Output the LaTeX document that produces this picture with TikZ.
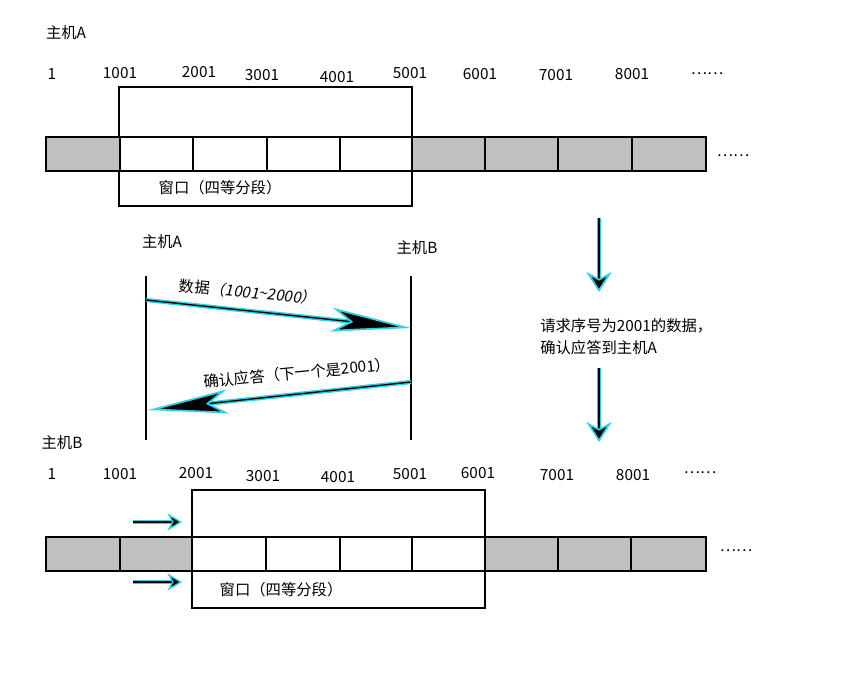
\documentclass[tikz,border=0pt]{standalone}
\usepackage{fontspec}
\setmainfont{Noto Sans CJK SC}
\newfontfamily\slantfont[FakeSlant=0.18]{Noto Sans CJK SC}
\usetikzlibrary{arrows.meta}
\definecolor{segGray}{RGB}{192,192,192}
\definecolor{glow}{RGB}{45,208,228}
\tikzset{lbl/.style={inner sep=0pt, font=\fontsize{11.5}{16.5}\selectfont}}
\tikzset{segment/.style={draw, line width=1.2pt, fill=white}}
\tikzset{sent segment/.style={segment, fill=segGray}}
\tikzset{window/.style={draw, line width=0.8pt}}
\tikzset{lifeline/.style={line width=0.8pt}}
\tikzset{message/.style={line width=1pt, preaction={draw=glow, line width=3.2pt, -, shorten >=40pt}, -{Stealth[length=60pt, width=18pt, inset=14pt, color=glow, fill=black, line width=1.3pt]}}}
\tikzset{down arrow/.style={line width=1.2pt, preaction={draw=glow, line width=3.4pt, -, shorten >=10pt}, -{Stealth[length=15pt, width=19pt, inset=5pt, color=glow, fill=black, line width=1.3pt]}}}
\tikzset{slide arrow/.style={line width=0.9pt, preaction={draw=glow, line width=2.4pt, -, shorten >=6pt}, -{Stealth[length=11pt, width=13pt, inset=3.5pt, color=glow, fill=black, line width=1pt]}}}

\begin{document}
\begin{tikzpicture}[x=0.75pt, y=-0.75pt]
    \useasboundingbox (0,0) rectangle (852,676);
    % sender buffer
    \node[lbl] (hostA) at (66,33) {主机A};
    \foreach \x/\y/\t [count=\i] in {52/74/1, 120/73/1001, 199/72/2001, 262/75/3001, 337/77/4001, 410/73/5001, 480/74/6001, 556/75/7001, 632/74/8001, 707/74/……}
        \node[lbl] (numA\i) at (\x,\y) {\t};
    \draw[window] (119,87) rectangle (412,206);
    \foreach \xa/\xb in {46/120, 412/485, 485/558, 558/632, 632/706}
        \draw[sent segment] (\xa,137) rectangle (\xb,171);
    \foreach \xa/\xb in {120/193, 193/267, 267/340, 340/412}
        \draw[segment, line width=1.5pt] (\xa,137) rectangle (\xb,171);
    \node[lbl] (winA) at (220,188) {窗口（四等分段）};
    \node[lbl] (moreA) at (733,156) {……};
    % exchange
    \node[lbl] (peerA) at (162,242) {主机A};
    \node[lbl] (peerB) at (417,248) {主机B};
    \coordinate (lifeAtop) at (146,276);
    \coordinate (lifeAbot) at (146,440);
    \coordinate (lifeBtop) at (411,276);
    \coordinate (lifeBbot) at (411,440);
    \draw[lifeline] (lifeAtop) -- (lifeAbot);
    \draw[lifeline] (lifeBtop) -- (lifeBbot);
    \coordinate (dataS) at (146,300);
    \coordinate (dataE) at (411,328);
    \draw[message] (dataS) -- (dataE);
    \node[lbl, rotate=-5.5] (dataLbl) at (248,292) {数据{\slantfont （1001\textasciitilde2000）}};
    \coordinate (ackS) at (411,382);
    \coordinate (ackE) at (148,410);
    \draw[message] (ackS) -- (ackE);
    \node[lbl, rotate=5.5] (ackLbl) at (297,373) {确认应答（下一个是2001）};
    % note on the right
    \node[lbl, align=left, anchor=west] (note) at (540,337) {请求序号为2001的数据，\\确认应答到主机A};
    \coordinate (down1s) at (599,218);
    \coordinate (down1e) at (599,292);
    \coordinate (down2s) at (599,368);
    \coordinate (down2e) at (599,442);
    \draw[down arrow] (down1s) -- (down1e);
    \draw[down arrow] (down2s) -- (down2e);
    % receiver buffer
    \node[lbl] (hostB) at (62,443) {主机B};
    \foreach \x/\y/\t [count=\i] in {52/474/1, 120/474/1001, 196/473/2001, 263/476/3001, 338/477/4001, 410/474/5001, 478/473/6001, 557/475/7001, 633/475/8001, 700/473/……}
        \node[lbl] (numB\i) at (\x,\y) {\t};
    \draw[window] (192,490) rectangle (485,608);
    \foreach \xa/\xb in {46/120, 120/192, 485/558, 558/631, 631/706}
        \draw[sent segment] (\xa,537) rectangle (\xb,571);
    \foreach \xa/\xb in {192/266, 266/340, 340/412, 412/485}
        \draw[segment, line width=1.5pt] (\xa,537) rectangle (\xb,571);
    \node[lbl] (winB) at (281,590) {窗口（四等分段）};
    \node[lbl] (moreB) at (736,551) {……};
    \coordinate (slide1s) at (133,522);
    \coordinate (slide1e) at (182,522);
    \coordinate (slide2s) at (133,582);
    \coordinate (slide2e) at (182,582);
    \draw[slide arrow] (slide1s) -- (slide1e);
    \draw[slide arrow] (slide2s) -- (slide2e);
\end{tikzpicture}
\end{document}
